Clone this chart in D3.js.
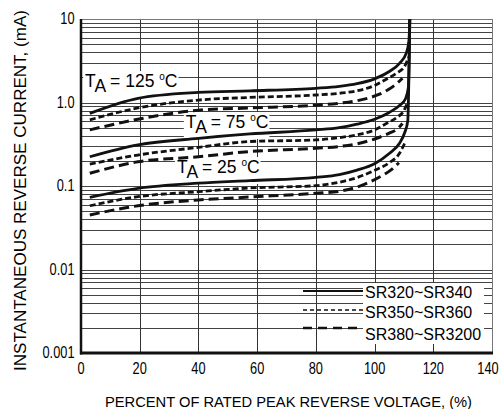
<!DOCTYPE html>
<html>
<head>
<meta charset="utf-8">
<script src="https://cdn.jsdelivr.net/npm/d3@7"></script>
<style>
  body { margin: 0; background: #fff; }
  svg { display: block; font-family: "Liberation Sans", Arial, sans-serif; }
</style>
</head>
<body>
<div id="chart"></div>
<script>
const width = 501;
const height = 409;

// tick values / labels
const xTicks = [0, 20, 40, 60, 80, 100, 120, 140];
const yTicks = [10, 1, 0.1, 0.01, 0.001];
const yTickLabels = ['10', '1.0', '0.1', '0.01', '0.001'];
const seriesNames = ['SR320~SR340', 'SR350~SR360', 'SR380~SR3200'];
const temps = ['125', '75', '25'];

// [percent of rated voltage, current mA]
const t125Solid = [[3, 0.74], [19.4, 1.12], [40, 1.32], [57.5, 1.38], [80, 1.48], [88, 1.56], [94, 1.68], [100, 1.92], [105, 2.35], [108.5, 2.95], [110.8, 3.9], [111.7, 5.5], [112, 10]];
const t125Short = [[3, 0.62], [19.4, 0.86], [40, 1.07], [57.5, 1.15], [80, 1.23], [88, 1.29], [94, 1.38], [100, 1.6], [104, 1.9], [107.5, 2.25], [110.2, 2.7], [111.6, 3.5]];
const t125Long = [[3, 0.47], [19.4, 0.63], [40, 0.81], [57.5, 0.86], [80, 0.93], [88, 0.98], [94, 1.05], [101, 1.23], [105, 1.45], [107.5, 1.68], [109.5, 1.95]];

const t75Solid = [[3, 0.224], [19.4, 0.31], [40, 0.372], [57.5, 0.42], [80, 0.469], [88, 0.5], [94, 0.55], [100, 0.63], [105, 0.76], [108.5, 0.92], [110.5, 1.1], [111.5, 1.5], [112, 10]];
const t75Short = [[3, 0.183], [19.4, 0.235], [40, 0.29], [57.5, 0.341], [80, 0.356], [88, 0.38], [94, 0.41], [100, 0.47], [104, 0.56], [107.5, 0.66], [109.8, 0.78], [111, 0.95]];
const t75Long = [[3, 0.142], [19.4, 0.195], [40, 0.224], [57.5, 0.259], [80, 0.283], [88, 0.297], [94, 0.32], [101, 0.376], [105, 0.43], [108, 0.49], [109.5, 0.56]];

const t25Solid = [[3, 0.0733], [19.4, 0.0938], [40, 0.108], [57.5, 0.116], [80, 0.127], [88, 0.137], [94, 0.155], [100, 0.185], [105, 0.245], [108.5, 0.325], [110.3, 0.44], [111.3, 0.6], [112, 10]];
const t25Short = [[3, 0.058], [19.4, 0.0745], [40, 0.0855], [57.5, 0.0946], [80, 0.101], [88, 0.111], [94, 0.126], [100, 0.154], [105, 0.19], [108.5, 0.246], [110.5, 0.34]];
const t25Long = [[3, 0.045], [19.4, 0.058], [40, 0.068], [57.5, 0.0738], [80, 0.0818], [88, 0.0865], [94, 0.097], [101.7, 0.128], [105.5, 0.155], [108.3, 0.19]];

const plotL = 81, plotR = 492, plotT = 19, plotB = 353;

const x = d3.scaleLinear().domain([0, 140]).range([plotL, plotR]);
const y = d3.scaleLog().domain([0.001, 10]).range([plotB, plotT]);

const styles = [
  {width: 2.8, dash: null},
  {width: 2.8, dash: '6,3'},
  {width: 3, dash: '10,5'}
];

const curves = [
  [t125Solid, t125Short, t125Long],
  [t75Solid, t75Short, t75Long],
  [t25Solid, t25Short, t25Long]
];

const svg = d3.select('#chart').append('svg')
  .attr('width', width)
  .attr('height', height);

// tick labels look like a condensed face: squeeze them horizontally
const squeeze = 0.8;

// log grid: every 1..9 of each decade
const minor = [];
yTicks.slice(1).forEach(d => {
  for (let k = 1; k <= 9; k++) minor.push(d * k);
});
minor.push(10);

svg.append('g')
  .selectAll('line')
  .data(minor)
  .join('line')
    .attr('x1', plotL).attr('x2', plotR)
    .attr('y1', d => Math.round(y(d)) + 0.5)
    .attr('y2', d => Math.round(y(d)) + 0.5)
    .attr('stroke', '#444')
    .attr('stroke-width', 1);

svg.append('g')
  .selectAll('line')
  .data(xTicks.slice(1, -1))
  .join('line')
    .attr('x1', d => Math.round(x(d)) + 0.5)
    .attr('x2', d => Math.round(x(d)) + 0.5)
    .attr('y1', plotT).attr('y2', plotB)
    .attr('stroke', '#333')
    .attr('stroke-width', 1);

// frame: thin top/right, heavy left/bottom
svg.append('line').attr('x1', plotL).attr('x2', plotR).attr('y1', plotT + 0.5).attr('y2', plotT + 0.5)
  .attr('stroke', '#777').attr('stroke-width', 1);
svg.append('line').attr('x1', plotR + 0.5).attr('x2', plotR + 0.5).attr('y1', plotT).attr('y2', plotB)
  .attr('stroke', '#777').attr('stroke-width', 1);

// temperature labels with white boxes
const labelPos = [[1.4, 1.53], [35.7, 0.495], [32.7, 0.143]];
const labels = svg.append('g');
temps.forEach((t, i) => {
  const g = labels.append('g');
  const txt = g.append('text')
    .attr('x', x(labelPos[i][0]))
    .attr('y', y(labelPos[i][1]))
    .attr('font-size', 17.5);
  txt.append('tspan').text('T');
  txt.append('tspan').attr('dy', 5).text('A');
  txt.append('tspan').attr('dy', -5).text(' = ' + t + ' ');
  txt.append('tspan').attr('dy', -7).attr('font-size', 10).text('o');
  txt.append('tspan').attr('dy', 7).text('C');
  const b = txt.node().getBBox();
  g.insert('rect', 'text')
    .attr('x', b.x - 2).attr('y', b.y)
    .attr('width', b.width + 3).attr('height', b.height + 2)
    .attr('fill', '#fff');
});

// curves
const line = d3.line()
  .x(d => x(d[0]))
  .y(d => y(d[1]))
  .curve(d3.curveMonotoneX);

svg.append('clipPath').attr('id', 'clip')
  .append('rect').attr('x', plotL).attr('y', plotT).attr('width', plotR - plotL).attr('height', plotB - plotT);

const plot = svg.append('g').attr('clip-path', 'url(#clip)');
curves.forEach(group => {
  group.forEach((data, j) => {
    plot.append('path')
      .attr('d', line(data))
      .attr('fill', 'none')
      .attr('stroke', '#111')
      .attr('stroke-width', styles[j].width)
      .attr('stroke-dasharray', styles[j].dash);
  });
});

// axes
svg.append('line').attr('x1', plotL).attr('x2', plotL).attr('y1', plotT).attr('y2', plotB + 1.5)
  .attr('stroke', '#111').attr('stroke-width', 2.5);
svg.append('line').attr('x1', plotL - 1).attr('x2', plotR + 1).attr('y1', plotB).attr('y2', plotB)
  .attr('stroke', '#111').attr('stroke-width', 3);

// last x label sits against the window edge, as in the picture
const xLabelX = d => Math.min(x(d), width - 13);

svg.append('g')
  .selectAll('text')
  .data(xTicks)
  .join('text')
    .attr('transform', d => `translate(${xLabelX(d)},374) scale(${squeeze},1)`)
    .attr('text-anchor', 'middle')
    .attr('font-size', 16)
    .text(d => d);

svg.append('g')
  .selectAll('text')
  .data(yTicks)
  .join('text')
    .attr('transform', d => `translate(74.5,${y(d) + 5}) scale(${squeeze},1)`)
    .attr('text-anchor', 'end')
    .attr('font-size', 16)
    .text((d, i) => yTickLabels[i]);

// legend
const legend = svg.append('g');
legend.append('rect')
  .attr('x', 363).attr('y', 283).attr('width', 121).attr('height', 61)
  .attr('fill', '#fff');
const legendDash = [
  {width: 2, dash: null},
  {width: 1.5, dash: '4,3'},
  {width: 2.5, dash: '9,6'}
];
const legendRowY = [291, 310, 328];
seriesNames.forEach((name, i) => {
  legend.append('line')
    .attr('x1', 303).attr('x2', 363)
    .attr('y1', legendRowY[i]).attr('y2', legendRowY[i])
    .attr('stroke', '#111')
    .attr('stroke-width', legendDash[i].width)
    .attr('stroke-dasharray', legendDash[i].dash);
  legend.append('text')
    .attr('x', 365)
    .attr('y', [298, 318, 340][i])
    .attr('font-size', 16)
    .text(name);
});

// axis titles
svg.append('text')
  .attr('transform', 'translate(26,190.5) rotate(-90)')
  .attr('text-anchor', 'middle')
  .attr('font-size', 17)
  .attr('textLength', 361)
  .attr('lengthAdjust', 'spacingAndGlyphs')
  .text('INSTANTANEOUS REVERSE CURRENT, (mA)');

svg.append('text')
  .attr('x', 288.5)
  .attr('y', 407)
  .attr('text-anchor', 'middle')
  .attr('font-size', 15)
  .attr('textLength', 367)
  .attr('lengthAdjust', 'spacingAndGlyphs')
  .text('PERCENT OF RATED PEAK REVERSE VOLTAGE, (%)');
</script>
</body>
</html>
